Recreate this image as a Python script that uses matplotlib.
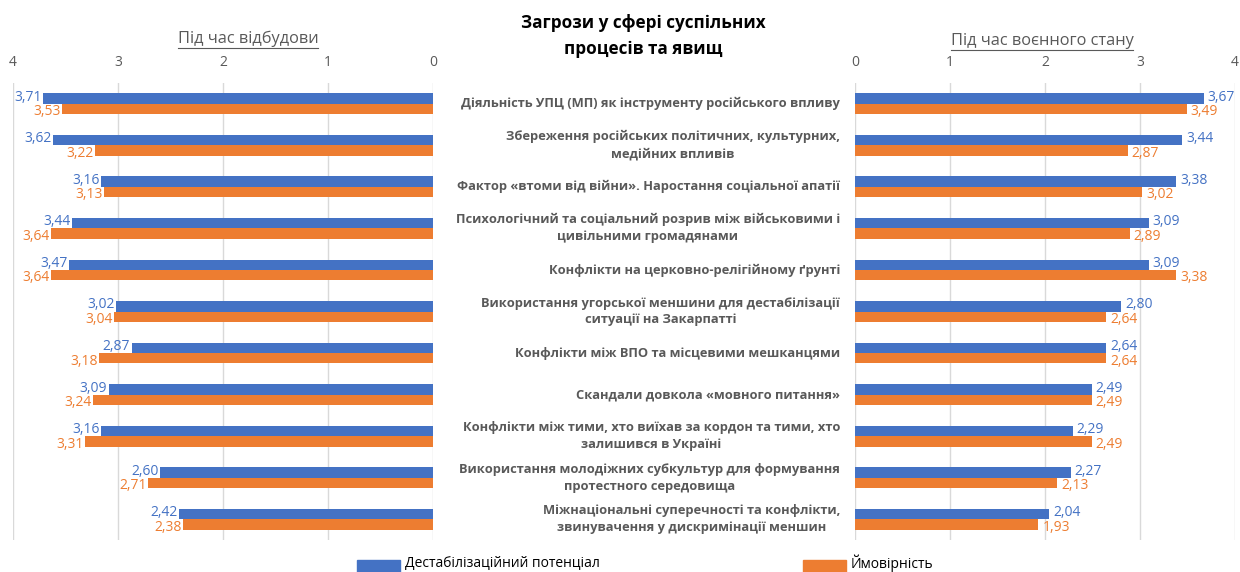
import matplotlib
matplotlib.use('Agg')
import matplotlib.pyplot as plt
from matplotlib.lines import Line2D
from matplotlib.patches import Rectangle
import numpy as np

plt.rcParams['font.family'] = ['Open Sans', 'DejaVu Sans']

categories = [
    'Діяльність УПЦ (МП) як інструменту російського впливу',
    'Збереження російських політичних, культурних,\nмедійних впливів',
    'Фактор «втоми від війни». Наростання соціальної апатії',
    'Психологічний та соціальний розрив між військовими і\nцивільними громадянами',
    'Конфлікти на церковно-релігійному ґрунті',
    'Використання угорської меншини для дестабілізації\nситуації на Закарпатті',
    'Конфлікти між ВПО та місцевими мешканцями',
    'Скандали довкола «мовного питання»',
    'Конфлікти між тими, хто виїхав за кордон та тими, хто\nзалишився в Україні',
    'Використання молодіжних субкультур для формування\nпротестного середовища',
    'Міжнаціональні суперечності та конфлікти,\nзвинувачення у дискримінації меншин',
]

# Під час відбудови
rebuild_potential = [3.71, 3.62, 3.16, 3.44, 3.47, 3.02, 2.87, 3.09, 3.16, 2.60, 2.42]
rebuild_probability = [3.53, 3.22, 3.13, 3.64, 3.64, 3.04, 3.18, 3.24, 3.31, 2.71, 2.38]
# Під час воєнного стану
war_potential = [3.67, 3.44, 3.38, 3.09, 3.09, 2.80, 2.64, 2.49, 2.29, 2.27, 2.04]
war_probability = [3.49, 2.87, 3.02, 2.89, 3.38, 2.64, 2.64, 2.49, 2.49, 2.13, 1.93]

series_names = ['Дестабілізаційний потенціал', 'Ймовірність']
ticks = [0, 1, 2, 3, 4]

BLUE = '#4472C4'
ORANGE = '#ED7D31'
GREY = '#595959'
GRID = '#D9D9D9'

W, H = 1240, 572
fig = plt.figure(figsize=(W / 100, H / 100), dpi=100)

bottom = 1 - 540 / H
top = 1 - 83 / H
ax1 = fig.add_axes([13 / W, bottom, (433 - 13) / W, top - bottom])
ax2 = fig.add_axes([855 / W, bottom, (1235 - 855) / W, top - bottom])

y = np.arange(len(categories))
bh = 0.25


def fmt(v):
    return f'{v:.2f}'.replace('.', ',')


for ax, pot, prob, side in [(ax1, rebuild_potential, rebuild_probability, 'left'),
                            (ax2, war_potential, war_probability, 'right')]:
    ax.barh(y - bh / 2, pot, height=bh, color=BLUE, zorder=3)
    ax.barh(y + bh / 2, prob, height=bh, color=ORANGE, zorder=3)
    ax.set_xlim(0, 4)
    ax.set_ylim(len(categories) - 0.5, -0.5)
    ax.set_xticks(ticks)
    ax.xaxis.tick_top()
    ax.tick_params(axis='x', length=0, labelsize=10, labelcolor=GREY, pad=9)
    ax.set_yticks([])
    for s in ax.spines.values():
        s.set_visible(False)
    ax.grid(axis='x', color=GRID, linewidth=1, zorder=0)
    ax.set_axisbelow(True)
    ha = 'right' if side == 'left' else 'left'
    off = -1 if side == 'left' else 3
    for i in range(len(categories)):
        ax.annotate(fmt(pot[i]), (pot[i], y[i] - bh / 2), xytext=(off, 1),
                    textcoords='offset points', ha=ha, va='center',
                    color=BLUE, fontsize=10, zorder=4)
        ax.annotate(fmt(prob[i]), (prob[i], y[i] + bh / 2), xytext=(off, -2),
                    textcoords='offset points', ha=ha, va='center',
                    color=ORANGE, fontsize=10, zorder=4)

ax1.invert_xaxis()

# category labels in the middle
for i, cat in enumerate(categories):
    ax2.annotate(cat, (0, y[i]), xycoords=ax2.get_yaxis_transform(),
                 xytext=(-15, 0), textcoords='offset pixels',
                 ha='right', va='center', multialignment='center',
                 fontsize=9.3, fontweight='bold', color=GREY, linespacing=1.4)

fig.text(643 / W, 1 - 36 / H, 'Загрози у сфері суспільних\nпроцесів та явищ',
         ha='center', va='center', fontsize=12.3, fontweight='bold',
         color='black', linespacing=1.55)

subtitles = []
subtitles.append(fig.text(248 / W, 1 - 39 / H, 'Під час відбудови', ha='center',
                          va='center', fontsize=11.8, color=GREY))
subtitles.append(fig.text(1042 / W, 1 - 41 / H, 'Під час воєнного стану', ha='center',
                          va='center', fontsize=11.8, color=GREY))

fig.canvas.draw()
r = fig.canvas.get_renderer()
for t in subtitles:
    bb = t.get_window_extent(r)
    yl = (bb.y0 - 1) / H
    fig.add_artist(Line2D([bb.x0 / W, bb.x1 / W], [yl, yl], color=GREY, linewidth=0.8))

# legend
for (x0, name, col) in [(357, series_names[0], BLUE), (803, series_names[1], ORANGE)]:
    fig.add_artist(Rectangle((x0 / W, 0), 43 / W, 12 / H, color=col,
                             transform=fig.transFigure))
    fig.text((x0 + 48) / W, 9 / H, name, ha='left', va='center',
             fontsize=10, color='black')

fig.savefig('out.png', dpi=100)
